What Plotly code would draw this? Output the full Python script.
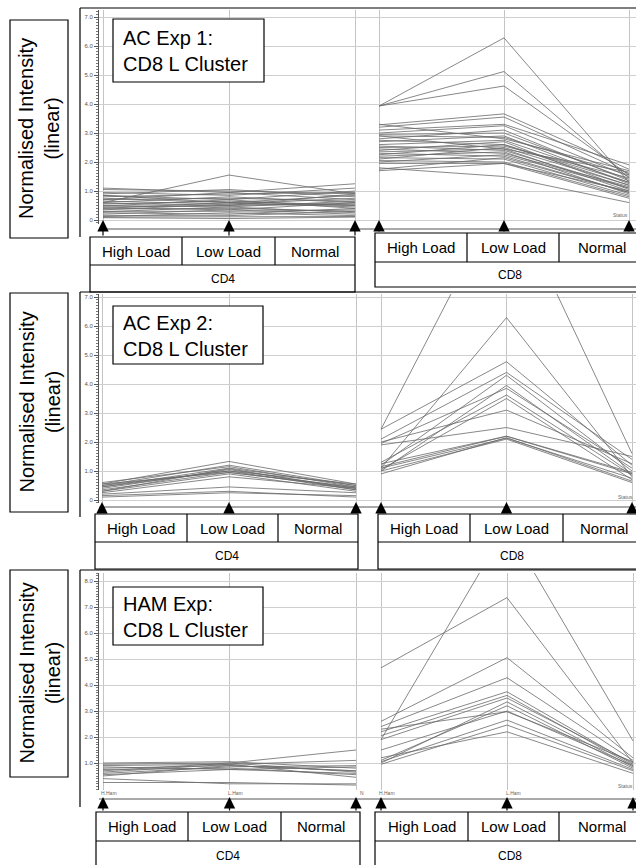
import plotly.graph_objects as go

W, H = 636, 865


def px(x):
    return x / W


def py(y):
    return 1 - y / H


# ---------------- data ----------------
categories = ["High Load", "Low Load", "Normal"]
cell_types = ["CD4", "CD8"]
title_lines = ["AC Exp 1:<br>CD8 L Cluster",
               "AC Exp 2:<br>CD8 L Cluster",
               "HAM Exp:<br>CD8 L Cluster"]
y_title = "Normalised Intensity<br>(linear)"
ticks_ac = [0, 1, 2, 3, 4, 5, 6, 7]
ticktext_ac = ["0", "1.0", "2.0", "3.0", "4.0", "5.0", "6.0", "7.0"]
ticks_ham = [1, 2, 3, 4, 5, 6, 7, 8]
ticktext_ham = ["1.0", "2.0", "3.0", "4.0", "5.0", "6.0", "7.0", "8.0"]
ham_tick_labels = ["H.Ham", "L.Ham", "N"]
status_label = "Status"

# each row: [High Load, Low Load, Normal]
exp1_cd4 = [
    [0.60, 1.55, 0.90], [1.10, 0.95, 1.25], [1.05, 1.00, 0.90], [0.95, 0.85, 1.10],
    [0.90, 1.05, 0.80], [0.85, 0.70, 1.00], [0.80, 0.90, 0.95], [0.75, 0.60, 0.85],
    [0.70, 0.95, 0.70], [0.65, 0.55, 0.75], [0.60, 0.80, 0.60], [0.58, 0.50, 0.90],
    [0.55, 0.65, 0.50], [0.50, 0.45, 0.65], [0.48, 0.70, 0.40], [0.45, 0.50, 0.55],
    [0.42, 0.35, 0.60], [0.40, 0.60, 0.45], [0.38, 0.40, 0.30], [0.35, 0.55, 0.50],
    [0.30, 0.30, 0.35], [0.28, 0.45, 0.25], [0.25, 0.20, 0.40], [0.20, 0.35, 0.20],
    [0.15, 0.15, 0.30], [0.12, 0.25, 0.15], [0.10, 0.10, 0.12], [0.08, 0.05, 0.10],
    [0.70, 0.75, 0.65], [0.85, 0.60, 0.55],
]
exp1_cd8 = [
    [3.93, 6.28, 1.30], [3.93, 5.12, 1.45], [3.93, 4.62, 1.55], [3.28, 3.66, 1.75],
    [3.20, 3.55, 1.60], [3.10, 3.30, 1.90], [3.00, 3.25, 1.50], [2.95, 3.00, 1.40],
    [2.90, 2.85, 1.55], [2.80, 3.10, 1.35], [2.75, 2.60, 1.20], [2.70, 2.90, 1.25],
    [2.60, 2.75, 1.30], [2.55, 2.40, 1.10], [2.50, 2.55, 1.45], [2.45, 2.30, 1.15],
    [2.40, 2.70, 1.05], [2.35, 2.45, 1.00], [2.30, 2.20, 0.95], [2.25, 2.60, 1.30],
    [2.20, 2.35, 0.90], [2.15, 2.10, 0.85], [2.10, 2.50, 1.20], [2.05, 2.00, 0.80],
    [2.00, 2.25, 1.10], [1.95, 1.95, 0.75], [1.80, 1.50, 0.60], [1.75, 2.15, 0.95],
    [1.70, 1.95, 1.00], [3.30, 2.80, 1.70], [2.90, 2.45, 1.65],
]
exp2_cd4 = [
    [0.55, 1.33, 0.55], [0.50, 1.20, 0.50], [0.60, 1.15, 0.45], [0.45, 1.10, 0.50],
    [0.40, 1.05, 0.40], [0.50, 1.00, 0.35], [0.35, 0.95, 0.45], [0.30, 0.90, 0.30],
    [0.45, 1.00, 0.55], [0.25, 0.80, 0.40], [0.20, 0.45, 0.25], [0.15, 0.30, 0.10],
    [0.10, 0.25, 0.15], [0.30, 1.08, 0.35], [0.55, 0.95, 0.42],
]
exp2_cd8 = [
    [2.44, 10.80, 1.60], [1.10, 6.29, 0.80], [2.44, 4.77, 1.20], [2.10, 4.40, 1.40],
    [1.20, 4.30, 1.00], [1.00, 3.95, 0.90], [1.95, 3.85, 1.10], [1.30, 3.62, 0.85],
    [1.05, 3.50, 0.70], [2.00, 3.10, 1.25], [1.90, 2.50, 1.50], [1.15, 2.20, 0.95],
    [1.10, 2.13, 0.75], [1.00, 2.10, 0.60], [0.90, 2.15, 0.65], [1.25, 2.20, 0.90],
]
ham_cd4 = [
    [0.95, 1.00, 1.50], [0.90, 0.95, 1.10], [1.00, 1.05, 0.80], [0.80, 0.90, 0.70],
    [0.70, 1.00, 0.65], [0.60, 0.85, 0.90], [0.75, 0.80, 0.55], [0.55, 0.75, 0.60],
    [0.65, 0.95, 0.45], [0.85, 0.75, 0.85], [0.25, 0.25, 0.15], [0.40, 0.20, 0.20],
    [0.50, 0.90, 0.70],
]
ham_cd8 = [
    [4.66, 7.36, 1.00], [1.90, 10.10, 1.85], [2.60, 5.05, 1.20], [2.40, 4.28, 1.10],
    [2.20, 3.74, 0.95], [2.05, 3.60, 0.90], [1.90, 3.50, 1.00], [1.00, 3.35, 0.85],
    [1.10, 3.20, 0.80], [2.30, 2.97, 1.05], [1.05, 2.65, 0.75], [0.95, 2.46, 0.70],
    [1.20, 2.20, 0.60], [1.50, 3.00, 0.90],
]

# ---------------- layout geometry (pixels) ----------------
panels = [
    dict(data=(exp1_cd4, exp1_cd8), zero=220, unit=29, top=10, bottom=224,
         cat_px=((103, 355), (379, 629)), ticks=(ticks_ac, ticktext_ac),
         frame=(80, 8, 237), ylab=(10, 20, 68, 238), tbox=(113, 19, 264, 82),
         base=229, tip=220,
         boxes=[(90, 237, 355, 292, 265, 182, 275), (375, 233, 645, 287, 262, 467, 559)],
         status=(620, 215), ham=False),
    dict(data=(exp2_cd4, exp2_cd8), zero=500, unit=29, top=294, bottom=503,
         cat_px=((102, 356), (381, 632)), ticks=(ticks_ac, ticktext_ac),
         frame=(80, 292, 517), ylab=(10, 293, 68, 512), tbox=(113, 306, 263, 364),
         base=507, tip=502,
         boxes=[(95, 514, 358, 569, 542, 187, 278), (378, 514, 645, 569, 542, 470, 563)],
         status=(625, 497), ham=False),
    dict(data=(ham_cd4, ham_cd8), zero=789, unit=26, top=573, bottom=790,
         cat_px=((103, 356), (381, 633)), ticks=(ticks_ham, ticktext_ham),
         frame=(80, 570, 807), ylab=(10, 570, 68, 777), tbox=(113, 587, 263, 645),
         base=799, tip=797,
         boxes=[(96, 812, 360, 870, 841, 188, 281), (375, 812, 645, 870, 841, 468, 559)],
         status=(625, 786), ham=True),
]
sub_x = [(99, 367), (367, 636)]

LINE_COLOR = "#6a6a6a"
GRID = "#cfcfcf"
FONT = "Liberation Sans, Arial, sans-serif"

fig = go.Figure()
layout = dict(width=W, height=H, margin=dict(l=0, r=0, t=0, b=0),
              plot_bgcolor="white", paper_bgcolor="white", showlegend=False)
shapes = []
annotations = []


def line(x0, y0, x1, y1, color="black", width=1.2):
    shapes.append(dict(type="line", xref="paper", yref="paper",
                       x0=px(x0), y0=py(y0), x1=px(x1), y1=py(y1),
                       line=dict(color=color, width=width)))


def rect(x0, y0, x1, y1, width=1.2, fill="rgba(0,0,0,0)"):
    shapes.append(dict(type="rect", xref="paper", yref="paper",
                       x0=px(x0), y0=py(y1), x1=px(x1), y1=py(y0),
                       line=dict(color="black", width=width), fillcolor=fill))


def text(x, y, s, size, anchor="center", angle=0, color="black"):
    annotations.append(dict(x=px(x), y=py(y), xref="paper", yref="paper", text=s,
                            showarrow=False, xanchor=anchor, yanchor="middle",
                            align="left" if anchor == "left" else "center",
                            textangle=angle, font=dict(family=FONT, size=size, color=color)))


for i, p in enumerate(panels):
    yr = [(p["zero"] - p["bottom"]) / p["unit"], (p["zero"] - p["top"]) / p["unit"]]
    ydom = [py(p["bottom"]), py(p["top"])]
    for j in range(2):
        n = 2 * i + j + 1
        xa = "x" if n == 1 else f"x{n}"
        ya = "y" if n == 1 else f"y{n}"
        (c0, c2) = p["cat_px"][j]
        s = (c2 - c0) / 2.0
        xr = [(sub_x[j][0] - c0) / s, (sub_x[j][1] - c0) / s]
        for row in p["data"][j]:
            fig.add_trace(go.Scatter(x=categories, y=row, mode="lines",
                                     line=dict(color=LINE_COLOR, width=0.8),
                                     xaxis=xa, yaxis=ya, hoverinfo="skip",
                                     showlegend=False))
        xkey = "xaxis" if n == 1 else f"xaxis{n}"
        ykey = "yaxis" if n == 1 else f"yaxis{n}"
        layout[xkey] = dict(domain=[px(sub_x[j][0]), px(sub_x[j][1])], anchor=ya,
                            type="category", categoryorder="array",
                            categoryarray=categories, range=xr,
                            showgrid=True, gridcolor="#c4c4c4", gridwidth=1,
                            showticklabels=False, ticks="", zeroline=False,
                            showline=False, fixedrange=True)
        yax = dict(domain=ydom, anchor=xa, range=yr, showgrid=True,
                   gridcolor=GRID, gridwidth=1, zeroline=False,
                   tickmode="array", tickvals=p["ticks"][0], fixedrange=True)
        if j == 0:
            yax.update(ticktext=p["ticks"][1], showticklabels=True, showline=True,
                       linecolor="#555555", linewidth=1, ticks="outside", ticklen=4,
                       tickcolor="#555555",
                       tickfont=dict(family=FONT, size=6, color="#555555"),
                       minor=dict(tick0=0, dtick=0.1, ticks="outside", ticklen=2,
                                  tickcolor="#777777", showgrid=False))
        else:
            yax.update(showticklabels=False, ticks="", showline=False)
        layout[ykey] = yax

        # arrows from box to axis positions
        box = p["boxes"][j]
        for c in categories:
            annotations.append(dict(x=c, y=py(p["tip"]), xref=xa, yref="paper",
                                    text="", showarrow=True, ax=0,
                                    ay=box[1] - p["tip"], axref="pixel", ayref="pixel",
                                    arrowhead=2, arrowsize=1.9, arrowwidth=1.2,
                                    arrowcolor="black"))

    # baseline under plot
    line(99, p["base"], 636, p["base"], color="#555555", width=1)

    # panel frame
    fx, fy0, fy1 = p["frame"]
    line(fx, fy0, fx, fy1)
    line(fx, fy0, 640, fy0)

    # y title box
    x0, y0, x1, y1 = p["ylab"]
    rect(x0, y0, x1, y1)
    text((x0 + x1) / 2, (y0 + y1) / 2, y_title, 20, angle=-90)

    # title box inside plot
    x0, y0, x1, y1 = p["tbox"]
    rect(x0, y0, x1, y1, fill="white")
    text(121, (y0 + y1) / 2 + 1, title_lines[i], 20, anchor="left")

    # category boxes
    for j, box in enumerate(p["boxes"]):
        bx0, by0, bx1, by1, brow, c1, c2 = box
        rect(bx0, by0, bx1, by1, fill="white")
        line(bx0, brow, bx1, brow)
        line(c1, by0, c1, brow)
        line(c2, by0, c2, brow)
        xs = [bx0, c1, c2, bx1]
        for k, c in enumerate(categories):
            text((xs[k] + xs[k + 1]) / 2, (by0 + brow) / 2, c, 15)
        text((bx0 + bx1) / 2, (brow + by1) / 2, cell_types[j], 12)

    # tiny status / category labels
    text(p["status"][0], p["status"][1], status_label, 5, color="#666666")
    if p["ham"]:
        for j in range(2):
            (c0, c2) = p["cat_px"][j]
            for k, lab in enumerate(ham_tick_labels[:2] if j == 1 else ham_tick_labels):
                text(c0 + k * (c2 - c0) / 2 + 6, 793, lab, 5, color="#666666")

layout["shapes"] = shapes
layout["annotations"] = annotations
fig.update_layout(**layout)
fig.write_html("out.html", config={"displayModeBar": False},
               post_script="document.body.style.margin='0px';document.body.style.overflow='hidden';")
